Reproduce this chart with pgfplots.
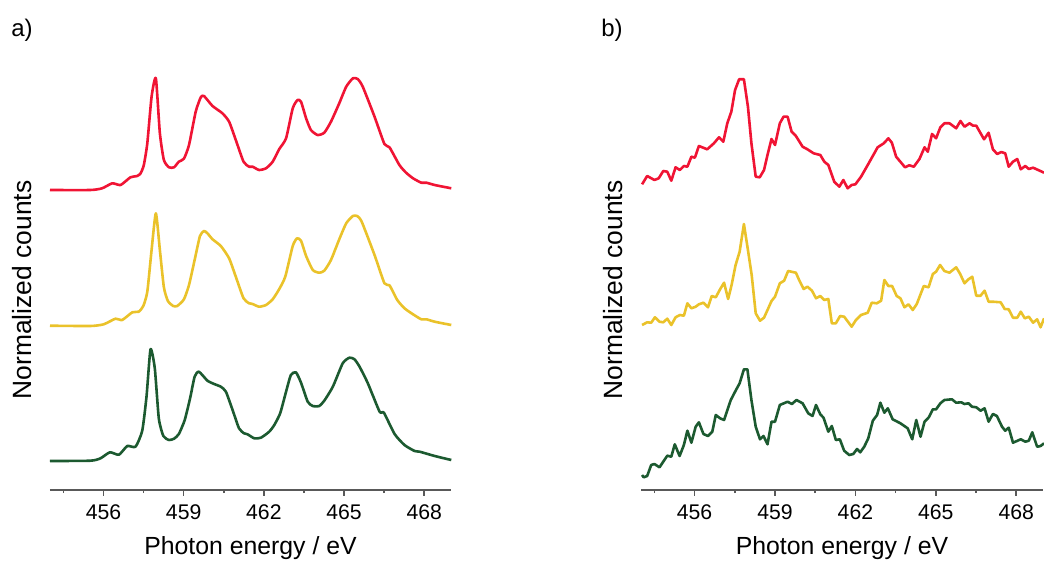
\documentclass[border=0pt]{standalone}
\usepackage{fontspec}
\setmainfont{Liberation Sans}
\usepackage{pgfplots}
\pgfplotsset{compat=1.18}

\definecolor{cred}{RGB}{240,20,52}
\definecolor{cyel}{RGB}{234,194,42}
\definecolor{cgrn}{RGB}{28,90,48}

\pgfplotsset{
  spec/.style={
    scale only axis, width=200.5pt, height=212.5pt,
    xmin=454, xmax=469, ymin=0, ymax=425,
    axis x line*=bottom, axis y line=none,
    x axis line style={draw=black!65, line width=1pt, -},
    xtick={456,459,462,465,468},
    minor xtick={454.5,457.5,460.5,463.5,466.5},
    tick align=outside,
    major tick length=2.8pt, minor tick length=1.6pt,
    every tick/.style={draw=black!65, line width=0.8pt},
    xticklabel style={font=\fontsize{10.6}{12}\selectfont, yshift=-1pt},
    /pgf/number format/assume math mode=true,
    xlabel={Photon energy / eV},
    xlabel style={font=\fontsize{12.4}{14}\selectfont, at={(axis description cs:0.5,0)}, anchor=center, yshift=-29pt},
    every axis plot/.append style={line width=1.3pt, line join=round, no marks},
    clip=false,
  }
}

\begin{document}
\begin{tikzpicture}
\useasboundingbox (-25pt,-36.5pt) rectangle (497pt,245pt);

% ---------- a) ----------
\begin{axis}[spec, at={(0,0)}, anchor=south west,
  every axis plot/.append style={smooth, tension=0.35}]
\addplot[cred] coordinates {
(454.00,300)(455.51,300)(455.95,301.7)(456.33,306.7)(456.64,305)(457.01,312.7)(457.26,314)
(457.39,316.7)(457.51,325)(457.64,346.7)(457.80,393.3)(457.96,411.7)(458.11,356.7)(458.26,330)
(458.45,322.7)(458.64,322.7)(458.82,328.3)(459.01,331.3)(459.20,345)(459.45,378.3)(459.64,392.7)
(459.76,394)(460.08,384)(460.45,376.7)(460.70,368.3)(460.95,350)(461.24,328.3)(461.45,323.3)
(461.58,323.3)(461.82,320)(462.08,321.7)(462.33,328.3)(462.57,340.7)(462.83,351.7)(463.08,381.7)
(463.26,390)(463.39,388.3)(463.58,371.7)(463.76,360)(464.01,355)(464.26,357.3)(464.51,368.3)
(464.82,386.7)(465.08,403.3)(465.33,411.7)(465.51,411)(465.70,403.3)(466.14,373.3)(466.51,346)
(466.70,342.7)(467.07,325)(467.32,317.3)(467.58,311.7)(467.89,307.3)(468.08,307.3)(468.39,305)
(469.01,301.7)};
\addplot[cyel] coordinates {
(454.00,164.3)(455.51,164)(456.01,165.7)(456.45,171.3)(456.70,170)(457.08,177.7)(457.32,178.3)
(457.49,184)(457.64,198.3)(457.80,240)(457.96,276.7)(458.11,240)(458.26,202.7)(458.41,189)
(458.61,184)(458.76,184)(459.01,190.7)(459.20,205)(459.41,230)(459.61,254)(459.76,259)
(459.89,256.7)(460.08,250.7)(460.39,244)(460.70,231.7)(460.95,213.3)(461.24,191.7)(461.45,186.7)
(461.58,186)(461.82,183.3)(462.08,185)(462.33,190.7)(462.57,200.7)(462.80,213.3)(463.08,244)
(463.24,251.7)(463.39,249.3)(463.58,234)(463.83,220)(464.07,217.3)(464.26,219.3)(464.51,230)
(464.82,250.7)(465.08,266.7)(465.33,274)(465.49,274)(465.66,268.3)(466.14,235)(466.51,206.7)
(466.70,204.7)(466.99,190)(467.26,181.7)(467.58,175.7)(467.89,170.7)(468.08,170.7)(468.39,168.3)
(469.01,165)};
\addplot[cgrn] coordinates {
(454.00,29)(455.51,29.3)(455.89,31.7)(456.24,37.7)(456.58,35.3)(456.89,44)(457.20,43.3)
(457.45,59.3)(457.61,93.3)(457.76,140.7)(457.92,121.7)(458.07,71.7)(458.24,54)(458.45,50)
(458.64,51.3)(458.82,56)(459.04,70)(459.24,91.7)(459.41,113.3)(459.57,118.3)(459.89,109.3)
(460.14,106)(460.39,103.3)(460.58,98.3)(460.83,80)(461.07,61.7)(461.26,56.7)(461.39,55.7)
(461.64,51.7)(461.89,52.3)(462.20,58.3)(462.39,65)(462.61,76.7)(462.83,98.3)(463.01,115)
(463.20,117.7)(463.39,107.3)(463.64,88.3)(463.83,84)(464.07,84)(464.26,89.3)(464.58,103.3)
(464.95,126.7)(465.20,132.3)(465.39,130.7)(465.58,123.3)(465.89,106.7)(466.33,78.3)(466.49,77.3)
(466.89,56)(467.26,45)(467.64,39)(467.83,38.3)(468.39,34)(469.01,30)};
\end{axis}

% ---------- b) ----------
\begin{axis}[spec, at={(295.5pt,0)}, anchor=south west, width=201pt]
\addplot[cred] coordinates {
(454.04,305.7)(454.23,314)(454.50,310)(454.66,311.7)(454.83,319)(454.98,318.3)(455.13,309.3)
(455.29,322.7)(455.45,320)(455.60,324)(455.73,323.3)(455.88,333.3)(456.01,332.3)(456.16,344)
(456.47,340.7)(456.72,346.7)(456.91,352.7)(457.07,348.3)(457.22,366.7)(457.37,378.3)(457.51,400)
(457.66,410.7)(457.84,410.7)(457.99,383.3)(458.12,346.7)(458.28,313.3)(458.43,312.7)(458.59,320)
(458.72,335)(458.87,351)(459.00,345)(459.18,366.7)(459.32,373.3)(459.47,373.3)(459.62,358.3)
(459.78,354)(460.03,343.3)(460.21,340.7)(460.44,336.7)(460.69,335)(460.84,328.3)(460.99,325)
(461.21,308.3)(461.40,303.3)(461.55,310)(461.71,301.7)(461.86,305)(462.00,305.7)(462.21,313.3)
(462.46,325)(462.83,342.7)(463.06,346.7)(463.23,351.7)(463.36,347.3)(463.52,333.3)(463.85,322.7)
(464.01,324.7)(464.18,323.3)(464.39,331)(464.58,342.7)(464.70,338.3)(464.86,356)(465.01,351.7)
(465.17,362.7)(465.32,366.7)(465.51,366.7)(465.76,361.7)(465.92,369)(466.07,363.3)(466.26,366.7)
(466.39,364.3)(466.51,364.3)(466.80,350.7)(466.97,357.3)(467.13,340.7)(467.29,336)(467.44,338)
(467.59,336.7)(467.72,323.3)(467.88,328.3)(468.04,331)(468.17,320.7)(468.34,324)(468.47,321)
(468.63,322.3)(468.82,320)(469.04,317.3)};
\addplot[cyel] coordinates {
(454.04,165)(454.23,167.7)(454.38,167.3)(454.52,172.7)(454.69,168.3)(454.83,167.7)(454.98,171.3)
(455.13,165)(455.29,172.7)(455.45,175)(455.60,174.3)(455.73,186.7)(455.88,181.7)(456.04,183.3)
(456.16,185.7)(456.33,187.3)(456.50,182.7)(456.64,194)(456.79,192.7)(456.95,200.7)(457.10,207.3)
(457.25,191)(457.38,205)(457.53,225)(457.68,238.3)(457.84,266)(457.99,240)(458.13,215)
(458.28,176.7)(458.44,169.3)(458.59,172.3)(458.72,180)(458.87,189)(459.00,193.3)(459.18,206.7)
(459.34,209.3)(459.49,219)(459.78,217.3)(459.90,210)(460.07,201)(460.21,203.3)(460.38,199.3)
(460.53,191.7)(460.69,194)(460.84,190)(460.99,191)(461.12,166.7)(461.27,166.7)(461.43,174)
(461.58,173.3)(461.86,163.3)(462.02,170)(462.21,175)(462.46,177.3)(462.61,187.3)(462.80,186.7)
(462.96,189.3)(463.08,210)(463.23,204)(463.37,204)(463.54,194)(463.68,191.7)(463.83,182.7)
(463.98,185.7)(464.14,180)(464.29,186)(464.55,204)(464.73,202.7)(464.89,216)(465.01,218.3)
(465.16,225)(465.32,219)(465.51,217.3)(465.76,222.7)(465.91,216)(466.07,206.7)(466.22,210.7)
(466.36,213.3)(466.51,194.3)(466.67,194.3)(466.82,199.3)(466.97,188.3)(467.13,188.3)(467.42,187.7)
(467.57,181)(467.72,180.7)(467.88,172.3)(468.04,172.3)(468.17,178.3)(468.32,171.7)(468.47,173.3)
(468.63,167.3)(468.78,170.7)(468.91,162.7)(469.04,171.7)};
\addplot[cgrn] coordinates {
(454.04,15)(454.10,12.7)(454.23,14)(454.38,25)(454.50,26)(454.69,22.7)(454.83,28.3)
(454.98,34.3)(455.13,33.3)(455.26,45.7)(455.44,34)(455.60,45)(455.73,59.3)(455.88,47.3)
(456.04,63.3)(456.16,67.7)(456.33,56)(456.50,54)(456.66,58.3)(456.79,75)(456.95,71.7)
(457.10,70)(457.35,90)(457.53,99.3)(457.68,106.7)(457.84,120.7)(457.97,120.7)(458.12,90)
(458.28,63.3)(458.44,50.7)(458.57,54)(458.72,45.7)(458.87,68.3)(459.00,68.3)(459.18,85)
(459.47,88.3)(459.63,86)(459.80,90)(460.03,86.7)(460.24,76.7)(460.40,74)(460.53,85)
(460.69,75.7)(460.81,72.3)(460.99,58.3)(461.12,64)(461.27,50)(461.42,50.7)(461.58,39.3)
(461.77,35)(461.92,36)(462.06,41)(462.18,37.7)(462.33,43.3)(462.48,51.7)(462.65,69.3)
(462.81,75)(462.93,87.3)(463.08,77.3)(463.21,81.7)(463.39,70.7)(463.68,66.7)(463.95,61.7)
(464.12,50.7)(464.27,70)(464.43,53.3)(464.58,68.3)(464.74,72.7)(464.89,80.7)(465.01,80.7)
(465.17,86.7)(465.32,90)(465.60,90.7)(465.76,87.3)(465.95,87.7)(466.07,86)(466.22,86.7)
(466.35,83.3)(466.51,82.7)(466.67,79.3)(466.82,81.7)(466.97,68.3)(467.13,76)(467.28,74)
(467.47,63.3)(467.59,59.3)(467.72,62.3)(467.88,47.3)(468.17,50.7)(468.34,48.3)(468.47,49.3)
(468.60,57.7)(468.78,43.3)(468.91,44)(469.04,46.7)};
\end{axis}

% panel letters and y labels
\node[font=\fontsize{12}{14}\selectfont] at (-14pt,230pt) {a)};
\node[font=\fontsize{12}{14}\selectfont] at (281pt,230pt) {b)};
\node[font=\fontsize{13.2}{15}\selectfont, rotate=90] at (-14pt,100pt) {Normalized counts};
\node[font=\fontsize{13.2}{15}\selectfont, rotate=90] at (281.5pt,100pt) {Normalized counts};
\end{tikzpicture}
\end{document}
